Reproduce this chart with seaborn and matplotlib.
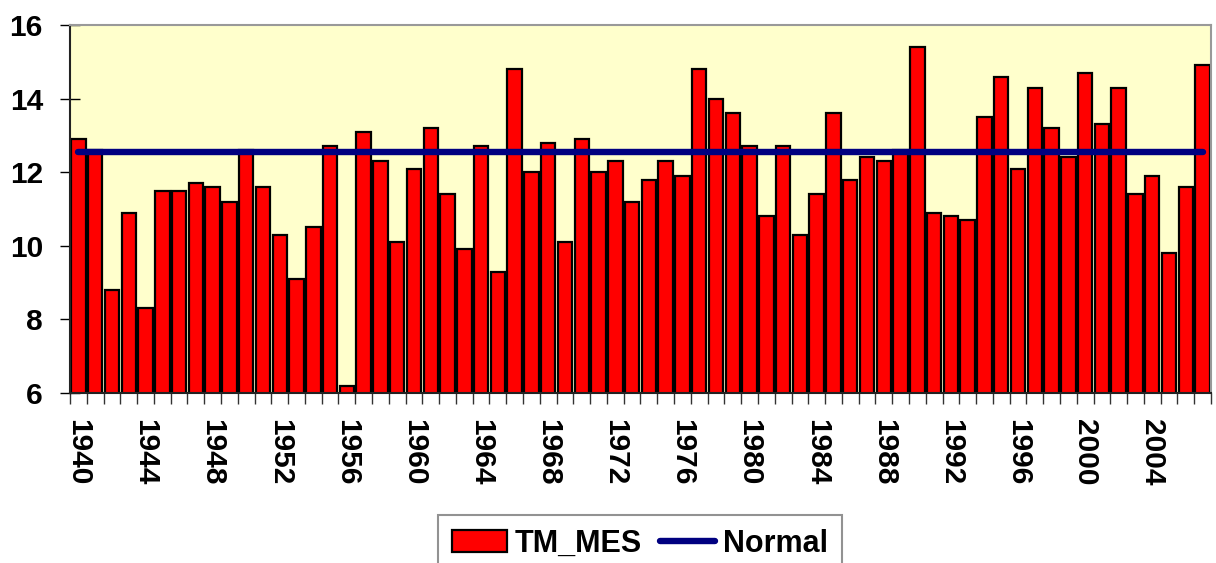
import matplotlib
matplotlib.use("Agg")
from matplotlib import pyplot as plt
from matplotlib.patches import Patch
from matplotlib.lines import Line2D
from matplotlib.ticker import FixedLocator
import seaborn as sns
import numpy as np

years = list(range(1940, 2008))
tm_mes = [12.9, 12.6, 8.8, 10.9, 8.3, 11.5, 11.5, 11.7, 11.6, 11.2,
          12.6, 11.6, 10.3, 9.1, 10.5, 12.7, 6.2, 13.1, 12.3, 10.1,
          12.1, 13.2, 11.4, 9.9, 12.7, 9.3, 14.8, 12.0, 12.8, 10.1,
          12.9, 12.0, 12.3, 11.2, 11.8, 12.3, 11.9, 14.8, 14.0, 13.6,
          12.7, 10.8, 12.7, 10.3, 11.4, 13.6, 11.8, 12.4, 12.3, 12.6,
          15.4, 10.9, 10.8, 10.7, 13.5, 14.6, 12.1, 14.3, 13.2, 12.4,
          14.7, 13.3, 14.3, 11.4, 11.9, 9.8, 11.6, 14.9]
normal = 12.55
label_years = [y for y in years if (y - 1940) % 4 == 0]

sns.set_style("white")
plt.rcParams['font.family'] = ['Liberation Sans', 'DejaVu Sans']
plt.rcParams['font.weight'] = 'bold'
plt.rcParams['text.color'] = 'black'
plt.rcParams['xtick.labelcolor'] = 'black'
plt.rcParams['ytick.labelcolor'] = 'black'

fig = plt.figure(figsize=(12.16, 5.63), dpi=100)
ax = fig.add_axes([70/1216, 1-393/563, 1141/1216, 368/563])
ax.set_facecolor('#FFFFCC')

sns.barplot(x=years, y=tm_mes, color='#FF0000', edgecolor='black',
            linewidth=1.6, width=0.86, saturation=1, ax=ax)
idx = np.arange(len(years))
sns.lineplot(x=idx, y=[normal] * len(years), color='#000080', linewidth=4.6,
             solid_capstyle='round', ax=ax)

ax.set_ylim(6, 16)
ax.set_xlim(-0.5, len(years) - 0.5)
ax.set_yticks([6, 8, 10, 12, 14, 16])
ax.tick_params(axis='y', direction='inout', length=15, width=1, color='black',
               labelcolor='black', labelsize=21.5, pad=12, left=True)

ax.xaxis.set_major_locator(FixedLocator([years.index(y) for y in label_years]))
ax.set_xticklabels([str(y) for y in label_years], rotation=270, fontsize=21.5,
                   fontweight='bold', color='black')
ax.tick_params(axis='x', which='major', length=0, pad=19, bottom=True)
ax.xaxis.set_minor_locator(FixedLocator(np.arange(-0.5, len(years), 1)))
ax.tick_params(axis='x', which='minor', direction='out', length=8, width=1,
               color='#333333', bottom=True)

for s in ['top', 'right']:
    ax.spines[s].set_color('#999999')
    ax.spines[s].set_linewidth(1.5)
for s in ['left', 'bottom']:
    ax.spines[s].set_color('#222222')
    ax.spines[s].set_linewidth(1.5)

handles = [Patch(facecolor='#FF0000', edgecolor='black', linewidth=1.6),
           Line2D([], [], color='#000080', linewidth=4.6, solid_capstyle='round')]
leg = fig.legend(handles, ['TM_MES', 'Normal'], loc='upper center',
                 bbox_to_anchor=(640/1216, 1-515/563), ncol=2, frameon=True,
                 fancybox=False, prop={'size': 22, 'weight': 'bold'},
                 handlelength=1.8, handletextpad=0.25, columnspacing=0.6,
                 borderpad=0.45, borderaxespad=0)
leg.get_frame().set_edgecolor('#777777')
leg.get_frame().set_linewidth(1.5)
for t in leg.get_texts():
    t.set_color('black')

fig.savefig('out.png', dpi=100)
